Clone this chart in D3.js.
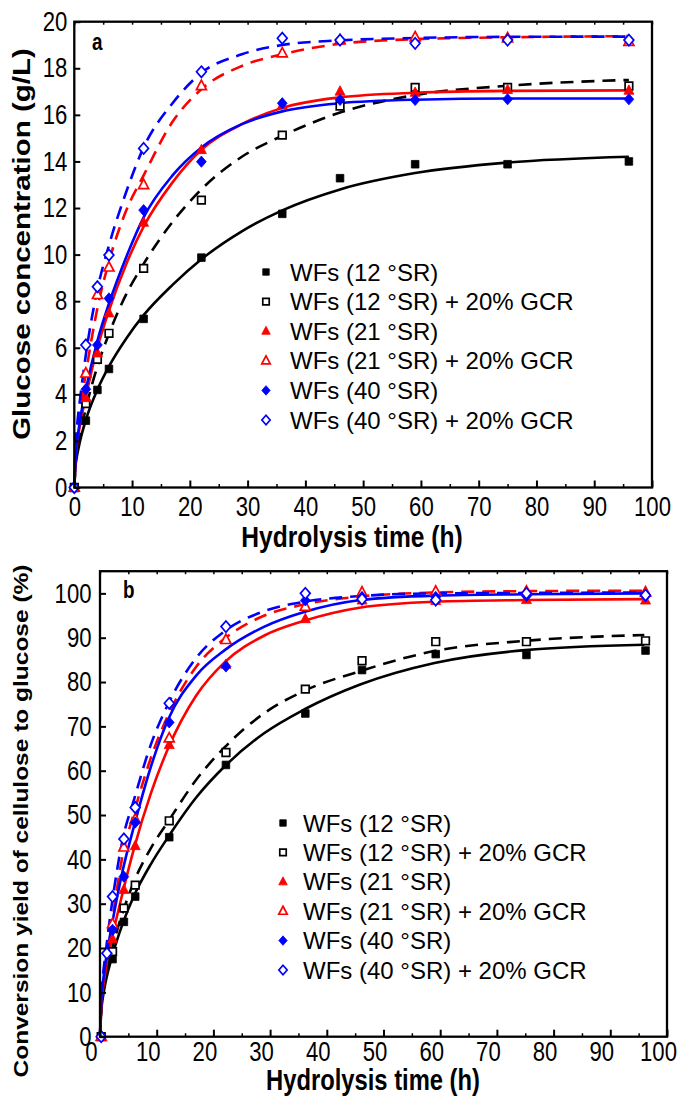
<!DOCTYPE html>
<html>
<head>
<meta charset="utf-8">
<script src="https://cdn.jsdelivr.net/npm/d3@7"></script>
<style>
body{margin:0;background:#fff}
svg{display:block}
text{font-family:"Liberation Sans",Arial,sans-serif;fill:#000}
</style>
</head>
<body>
<svg id="chart" width="677" height="1099"></svg>
<script>
// sampling times (h)
let hours = [0, 2, 4, 6, 12, 22, 36, 46, 59, 75, 96];
let hoursB40g = [0, 1, 2, 4, 6, 12, 22, 36, 46, 59, 75, 96];

// panel a - glucose concentration (g/L)
let glc12   = [0, 2.87, 4.19, 5.09, 7.24, 9.87, 11.75, 13.28, 13.88, 13.88, 14.0];
let glc12g  = [0, 3.6, 5.5, 6.62, 9.41, 12.34, 15.13, 16.38, 17.18, 17.18, 17.24];
let glc21   = [0, 3.84, 5.76, 7.48, 11.37, 14.49, 16.4, 17.0, 16.95, 17.07, 17.04];
let glc21g  = [0, 4.9, 8.27, 9.45, 12.99, 17.24, 18.64, 19.21, 19.33, 19.29, 19.14];
let glc40   = [0, 4.22, 6.12, 8.12, 11.91, 13.99, 16.5, 16.64, 16.64, 16.67, 16.67];
let glc40g  = [0, 6.12, 8.62, 9.98, 14.56, 17.85, 19.29, 19.21, 19.07, 19.21, 19.21];

// panel b - conversion yield (%)
let conv12  = [0, 17.5, 25.9, 31.6, 45.0, 61.3, 72.9, 82.7, 86.3, 86.1, 87.1];
let conv12g = [0, 19.2, 29.0, 34.2, 48.7, 64.1, 78.4, 84.8, 89.1, 89.1, 89.3];
let conv21  = [0, 22.0, 33.1, 43.0, 65.8, 83.9, 94.2, 98.4, 98.3, 98.5, 98.4];
let conv21g = [0, 25.4, 42.7, 49.0, 67.3, 89.5, 97.0, 100.2, 100.4, 100.4, 100.2];
let conv40  = [0, 24.1, 36.1, 48.3, 70.9, 83.5, 98.4, 99.2, 99.2, 99.4, 99.4];
let conv40g = [0, 18.8, 31.6, 44.6, 51.7, 75.2, 92.5, 100.0, 98.7, 98.5, 100.0, 99.6];

// fitted curves
let fitHours = [0, 0.25, 0.5, 1, 2, 4, 6, 9, 12, 17, 22, 29, 36, 46, 59, 75, 96];
let fitA12  = [0, 1.0, 1.4, 2.0, 2.9, 4.2, 5.2, 6.4, 7.4, 8.7, 9.8, 11.0, 11.9, 12.8, 13.5, 13.95, 14.2];
let fitA12g = [0, 1.1, 1.6, 2.3, 3.4, 5.2, 6.6, 8.3, 9.6, 11.4, 12.8, 14.2, 15.1, 16.1, 16.85, 17.25, 17.5];
let fitA21  = [0, 1.3, 1.9, 2.7, 3.9, 6.0, 7.6, 9.6, 11.2, 13.1, 14.5, 15.6, 16.3, 16.75, 16.95, 17.03, 17.05];
let fitA21g = [0, 1.6, 2.3, 3.3, 4.9, 7.7, 9.7, 11.9, 13.4, 15.7, 17.1, 18.1, 18.6, 19.05, 19.25, 19.33, 19.38];
let fitA40  = [0, 1.4, 2.0, 2.9, 4.2, 6.3, 7.9, 9.9, 11.6, 13.4, 14.6, 15.6, 16.15, 16.5, 16.65, 16.7, 16.7];
let fitA40g = [0, 1.9, 2.7, 3.8, 5.7, 8.5, 10.4, 12.7, 14.6, 16.5, 17.8, 18.6, 19.0, 19.2, 19.3, 19.35, 19.36];

let fitB12  = [0, 6.2, 8.8, 12.4, 17.5, 25.5, 31.8, 39, 45, 54, 61, 68.5, 73.8, 79.5, 84.3, 87.2, 88.4];
let fitB12g = [0, 6.8, 9.6, 13.6, 19.2, 28, 35, 42.6, 48.5, 58, 65.3, 73, 78, 82.5, 87, 89.3, 90.6];
let fitB21  = [0, 7.5, 10.6, 15, 21.5, 32.5, 42.5, 55, 65, 77, 84.5, 90.5, 93.8, 96.8, 98.1, 98.5, 98.7];
let fitB21g = [0, 8.5, 12, 17, 25, 41, 50.5, 63, 72.5, 83.5, 89.8, 95, 97.5, 99.3, 100.2, 100.5, 100.6];
let fitB40  = [0, 8.5, 12, 17, 24.5, 37.5, 47.5, 61, 71.5, 81.5, 87.2, 92.5, 95.8, 98.5, 99.5, 99.8, 100.0];
let fitB40g = [0, 9.5, 13.5, 19, 29, 44.5, 53.5, 66, 75, 85.5, 91.5, 96, 98.1, 99.4, 100.0, 100.1, 100.2];

let legendLabels = ["WFs (12 °SR)", "WFs (12 °SR) + 20% GCR", "WFs (21 °SR)",
                    "WFs (21 °SR) + 20% GCR", "WFs (40 °SR)", "WFs (40 °SR) + 20% GCR"];

let looks = [
    {color: "#000", shape: "square",   filled: true,  dashed: false},
    {color: "#000", shape: "square",   filled: false, dashed: true},
    {color: "#f00", shape: "triangle", filled: true,  dashed: false},
    {color: "#f00", shape: "triangle", filled: false, dashed: true},
    {color: "#00f", shape: "diamond",  filled: true,  dashed: false},
    {color: "#00f", shape: "diamond",  filled: false, dashed: true}
];

let svg = d3.select("#chart");
let squeeze = 0.82;

let markerPath = (shape, k) => {
    if (shape === "square") return `M${-3.8*k},${-3.8*k}h${7.6*k}v${7.6*k}h${-7.6*k}z`;
    if (shape === "triangle") return `M0,${-5.8*k}L${5*k},${3.6*k}L${-5*k},${3.6*k}Z`;
    return `M0,${-5.6*k}L${4.9*k},0L0,${5.6*k}L${-4.9*k},0Z`;
};

let drawMarker = (g, look, x, y, k) => {
    g.append("path")
        .attr("d", markerPath(look.shape, k))
        .attr("transform", `translate(${x},${y})`)
        .attr("fill", look.filled ? look.color : "#fff")
        .attr("stroke", look.color)
        .attr("stroke-width", look.filled ? 0.8 : 1.7);
};

let drawPanel = (p) => {
    let x = d3.scaleLinear().domain([0, 100]).range([p.left, p.right]);
    let y = d3.scaleLinear().domain([0, p.yMax]).range([p.bottom, p.top]);
    let g = svg.append("g");

    // curves
    let line = d3.line().x(d => x(d[0])).y(d => y(d[1])).curve(d3.curveMonotoneX);
    p.fits.forEach((vals, i) => {
        g.append("path")
            .datum(fitHours.map((t, j) => [t, vals[j]]))
            .attr("d", line)
            .attr("fill", "none")
            .attr("stroke", looks[i].color)
            .attr("stroke-width", 2.6)
            .attr("stroke-dasharray", looks[i].dashed ? "13,8" : null);
    });

    // points
    p.points.forEach((s, i) => {
        s.vals.forEach((v, j) => drawMarker(g, looks[i], x(s.t[j]) + p.ptShift, y(v), 1));
    });

    // axes
    let bottom = g.append("g").attr("transform", `translate(0,${p.bottom})`)
        .call(d3.axisBottom(x).tickValues(d3.range(0, 101, 10)).tickSize(-7).tickSizeOuter(0).tickPadding(p.xPad));
    bottom.select(".domain").remove();
    bottom.selectAll("line").attr("stroke-width", 2);
    bottom.selectAll("text")
        .attr("font-size", p.tickFont)
        .attr("transform", `translate(${p.xShift},0) scale(${squeeze},1)`);

    g.append("g").attr("transform", `translate(0,${p.bottom})`)
        .call(d3.axisBottom(x).tickValues(d3.range(5, 100, 10)).tickSize(-3.5).tickSizeOuter(0).tickFormat(""))
        .call(a => a.select(".domain").remove())
        .selectAll("line").attr("stroke-width", 1.5);

    g.append("g").attr("transform", `translate(0,${p.top})`)
        .call(d3.axisTop(x).tickValues(d3.range(0, 101, 5)).tickSize(-3).tickSizeOuter(0).tickFormat(""))
        .call(a => a.select(".domain").remove())
        .selectAll("line").attr("stroke-width", 1.5);

    let left = g.append("g").attr("transform", `translate(${p.left},0)`)
        .call(d3.axisLeft(y).tickValues(p.yTicks).tickSize(-6).tickSizeOuter(0).tickPadding(0));
    left.select(".domain").remove();
    left.selectAll("line").attr("stroke-width", 2);
    left.selectAll("text")
        .attr("font-size", p.tickFont)
        .attr("x", 0)
        .attr("transform", `translate(${-p.yPad},0) scale(${squeeze},1)`);

    // frame
    g.append("rect")
        .attr("x", p.left).attr("y", p.top)
        .attr("width", p.right - p.left).attr("height", p.bottom - p.top)
        .attr("fill", "none").attr("stroke", "#000").attr("stroke-width", 2.3);

    // titles
    g.append("text")
        .attr("transform", `translate(${p.xTitle[0]},${p.xTitle[1]}) scale(${squeeze},1)`)
        .attr("text-anchor", "middle").attr("font-weight", "bold").attr("font-size", p.xTitleFont)
        .text("Hydrolysis time (h)");
    g.append("text")
        .attr("transform", `translate(${p.yTitle[0]},${p.yTitle[1]}) scale(${squeeze},1) rotate(-90)`)
        .attr("text-anchor", "middle").attr("font-weight", "bold").attr("font-size", p.yTitleFont)
        .text(p.yLabel);
    g.append("text")
        .attr("transform", `translate(${p.tag[0]},${p.tag[1]}) scale(${squeeze},1)`)
        .attr("font-weight", "bold").attr("font-size", 23)
        .text(p.tagText);

    // legend
    legendLabels.forEach((lab, i) => {
        let ly = p.legend[1] + i * p.legendStep;
        drawMarker(g, looks[i], p.legend[0], ly, 0.85);
        g.append("text")
            .attr("x", p.legend[0] + p.legendGap).attr("y", ly + 8.5)
            .attr("font-size", 24)
            .text(lab);
    });
};

drawPanel({
    left: 74.3, right: 652, top: 21.7, bottom: 487.5, yMax: 20,
    yTicks: d3.range(0, 21, 2),
    tickFont: 27, xPad: 9, xShift: 0, yPad: 7, ptShift: 0,
    xTitle: [352, 547], xTitleFont: 30,
    yTitle: [30, 244], yTitleFont: 29.5, yLabel: "Glucose concentration (g/L)",
    tag: [92, 50], tagText: "a",
    legend: [266, 272], legendStep: 29.6, legendGap: 24,
    fits: [fitA12, fitA12g, fitA21, fitA21g, fitA40, fitA40g],
    points: [
        {t: hours, vals: glc12}, {t: hours, vals: glc12g}, {t: hours, vals: glc21},
        {t: hours, vals: glc21g}, {t: hours, vals: glc40}, {t: hours, vals: glc40g}
    ]
});

drawPanel({
    left: 100, right: 667, top: 571.2, bottom: 1036.7, yMax: 105,
    yTicks: d3.range(0, 101, 10),
    tickFont: 27, xPad: 5, xShift: -9, yPad: 8.5, ptShift: 1.2,
    xTitle: [373, 1090], xTitleFont: 29,
    yTitle: [28, 821], yTitleFont: 24.5, yLabel: "Conversion yield of cellulose to glucose (%)",
    tag: [123, 598], tagText: "b",
    legend: [283, 823], legendStep: 29.4, legendGap: 20,
    fits: [fitB12, fitB12g, fitB21, fitB21g, fitB40, fitB40g],
    points: [
        {t: hours, vals: conv12}, {t: hours, vals: conv12g}, {t: hours, vals: conv21},
        {t: hours, vals: conv21g}, {t: hours, vals: conv40}, {t: hoursB40g, vals: conv40g}
    ]
});
</script>
</body>
</html>
